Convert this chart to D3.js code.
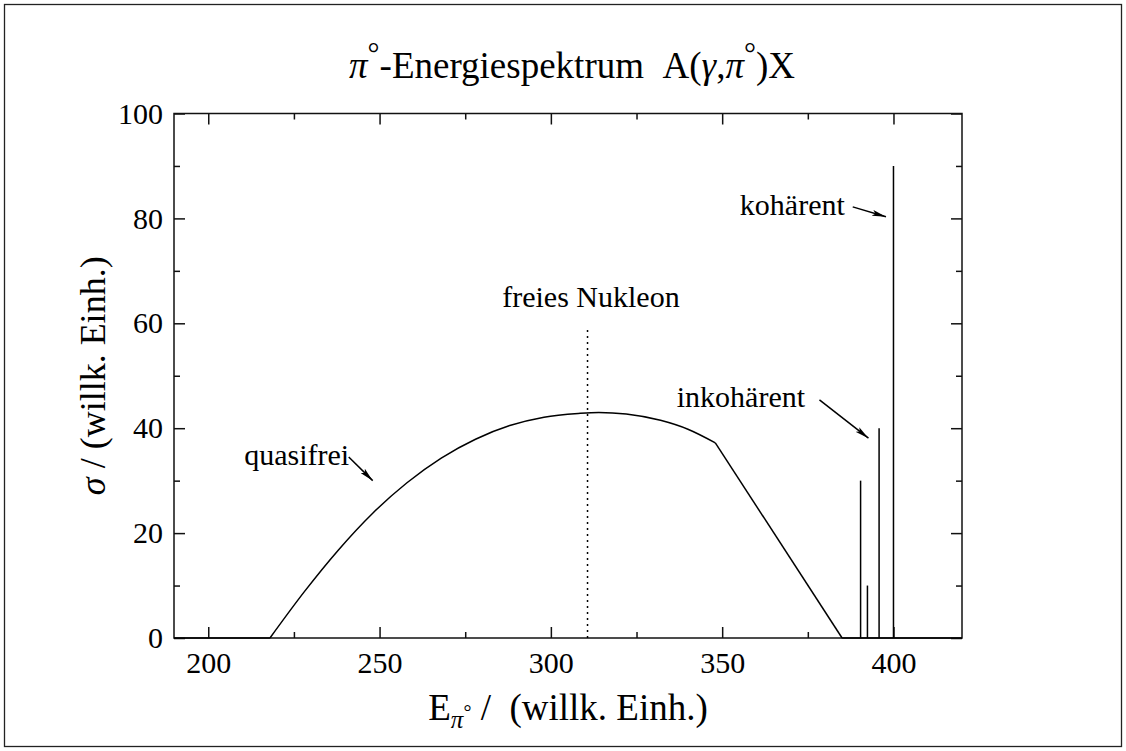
<!DOCTYPE html>
<html>
<head>
<meta charset="utf-8">
<script src="https://cdn.jsdelivr.net/npm/d3@7"></script>
<style>
  body{margin:0;background:#fff;}
  text{font-family:"Liberation Serif","Times New Roman",serif;fill:#000;}
</style>
</head>
<body>
<div id="chart"></div>
<script>
// axis ranges and ticks
var xDomain=[190,420];
var yDomain=[0,100];
var xMajorTicks=[200,250,300,350,400];
var xMinorTicks=[225,275,325,375];
var yMajorTicks=[0,20,40,60,80,100];
var yMinorTicks=[10,30,50,70,90];

// quasifree curve
var quasiE    =[218,228,238,248,258,268,278,288,298,308,314,322,332,340,348];
var quasiSigma=[0,8.8,16.8,23.8,29.6,34.3,37.9,40.5,42.1,42.8,43.0,42.7,41.5,39.8,37.2];
// straight falling edge after the kink
var tailE=[348,385];
var tailSigma=[37.2,0];
// zero baseline pieces
var baseE=[[190,218],[385,420]];

// incoherent + coherent lines
var spikeE    =[390.4,392.4,395.8,400];
var spikeSigma=[30,10,40,90];

// free nucleon marker
var freeE=310.7;
var freeTop=59;

// labels and arrows (data units)
var labelText  =["freies Nukleon","kohärent","inkohärent","quasifrei"];
var labelE     =[311.7,385.8,374.2,210.5];
var labelSigma =[63.1,80.6,44.0,33.0];
var labelAnchor=["middle","end","end","start"];
var arrowFrom=[[241.0,34.5],[388.1,82.2],[378.4,45.4]];
var arrowTo  =[[248.0,30.0],[397.8,80.3],[392.7,38.1]];

var W=1126,H=751;
var margin={top:113.5,right:164,bottom:113,left:174};

var svg=d3.select('#chart').append('svg')
  .attr('width',W).attr('height',H);

// outer frame
svg.append('rect')
  .attr('x',4.5).attr('y',4.5)
  .attr('width',W-9).attr('height',H-9)
  .attr('fill','none').attr('stroke','#222').attr('stroke-width',1.3);

var x=d3.scaleLinear().domain(xDomain).range([margin.left,W-margin.right]);
var y=d3.scaleLinear().domain(yDomain).range([H-margin.bottom,margin.top]);

var axisStyle=function(g){
  g.select('.domain').remove();
  g.selectAll('line').attr('stroke','#111').attr('stroke-width',1.5);
  g.selectAll('text').attr('font-size',30).attr('font-family','"Liberation Serif",serif').attr('fill','#000');
}

// bottom axis
svg.append('g').attr('transform','translate(0,'+y(0)+')')
  .call(d3.axisBottom(x).tickValues(xMajorTicks).tickSize(-11).tickPadding(14).tickFormat(d3.format('d')))
  .call(axisStyle);
svg.append('g').attr('transform','translate(0,'+y(0)+')')
  .call(d3.axisBottom(x).tickValues(xMinorTicks).tickSize(-6).tickFormat(''))
  .call(axisStyle);
// top axis
svg.append('g').attr('transform','translate(0,'+y(100)+')')
  .call(d3.axisTop(x).tickValues(xMajorTicks).tickSize(-11).tickFormat(''))
  .call(axisStyle);
svg.append('g').attr('transform','translate(0,'+y(100)+')')
  .call(d3.axisTop(x).tickValues(xMinorTicks).tickSize(-6).tickFormat(''))
  .call(axisStyle);
// left axis
svg.append('g').attr('transform','translate('+x(190)+',0)')
  .call(d3.axisLeft(y).tickValues(yMajorTicks).tickSize(-11).tickPadding(11).tickFormat(d3.format('d')))
  .call(axisStyle);
svg.append('g').attr('transform','translate('+x(190)+',0)')
  .call(d3.axisLeft(y).tickValues(yMinorTicks).tickSize(-6).tickFormat(''))
  .call(axisStyle);
// right axis
svg.append('g').attr('transform','translate('+x(420)+',0)')
  .call(d3.axisRight(y).tickValues(yMajorTicks).tickSize(-11).tickFormat(''))
  .call(axisStyle);
svg.append('g').attr('transform','translate('+x(420)+',0)')
  .call(d3.axisRight(y).tickValues(yMinorTicks).tickSize(-6).tickFormat(''))
  .call(axisStyle);

// plot frame
svg.append('rect')
  .attr('x',x(190)).attr('y',y(100))
  .attr('width',x(420)-x(190)).attr('height',y(0)-y(100))
  .attr('fill','none').attr('stroke','#111').attr('stroke-width',1.5);

var data=svg.append('g').attr('fill','none').attr('stroke','#000').attr('stroke-width',1.5);

// baseline pieces
baseE.forEach(function(p){
  data.append('line')
    .attr('x1',x(p[0])).attr('x2',x(p[1]))
    .attr('y1',y(0)).attr('y2',y(0));
});

// quasifree curve
var curve=d3.line().x(function(d){return x(d[0]);}).y(function(d){return y(d[1]);}).curve(d3.curveMonotoneX);
data.append('path').attr('d',curve(quasiE.map(function(e,i){return [e,quasiSigma[i]];})));
var straight=d3.line().x(function(d){return x(d[0]);}).y(function(d){return y(d[1]);});
data.append('path').attr('d',straight(tailE.map(function(e,i){return [e,tailSigma[i]];})));

// spikes
data.selectAll('line.spike')
  .data(spikeE.map(function(e,i){return {e:e,s:spikeSigma[i]};}))
  .join('line').attr('class','spike')
    .attr('x1',function(d){return x(d.e);}).attr('x2',function(d){return x(d.e);})
    .attr('y1',y(0)).attr('y2',function(d){return y(d.s);});

// free nucleon dotted line
data.append('line')
  .attr('x1',x(freeE)).attr('x2',x(freeE))
  .attr('y1',y(0)).attr('y2',y(freeTop))
  .attr('stroke-dasharray','2,4');

// arrow marker
svg.append('defs').append('marker')
  .attr('id','arrow')
  .attr('markerUnits','userSpaceOnUse')
  .attr('viewBox','0 0 14 6')
  .attr('refX',14).attr('refY',3)
  .attr('markerWidth',14).attr('markerHeight',6)
  .attr('orient','auto')
  .append('path').attr('d','M0,0 L14,3 L0,6 L3,3 z').attr('fill','#000');

svg.append('g').selectAll('line')
  .data(arrowFrom.map(function(f,i){return {f:f,t:arrowTo[i]};}))
  .join('line')
    .attr('x1',function(d){return x(d.f[0]);}).attr('y1',function(d){return y(d.f[1]);})
    .attr('x2',function(d){return x(d.t[0]);}).attr('y2',function(d){return y(d.t[1]);})
    .attr('stroke','#000').attr('stroke-width',1.5)
    .attr('marker-end','url(#arrow)');

// labels
svg.append('g').selectAll('text')
  .data(labelText.map(function(t,i){return {t:t,e:labelE[i],s:labelSigma[i],a:labelAnchor[i]};}))
  .join('text')
    .attr('x',function(d){return x(d.e);})
    .attr('y',function(d){return y(d.s);})
    .attr('text-anchor',function(d){return d.a;})
    .attr('font-size',30)
    .text(function(d){return d.t;});

// title
var title=svg.append('text')
  .attr('x',(x(190)+x(420))/2+4).attr('y',78)
  .attr('text-anchor','middle').attr('font-size',37);
title.append('tspan').attr('font-style','italic').text('π');
title.append('tspan').attr('dy',-15).attr('font-size',30).text('°');
title.append('tspan').attr('dy',15).text('-Energiespektrum\u00a0\u00a0A(');
title.append('tspan').attr('font-style','italic').text('γ');
title.append('tspan').text(',');
title.append('tspan').attr('font-style','italic').text('π');
title.append('tspan').attr('dy',-15).attr('font-size',30).text('°');
title.append('tspan').attr('dy',15).text(')X');

// x axis label
var xl=svg.append('text')
  .attr('x',(x(190)+x(420))/2).attr('y',720)
  .attr('text-anchor','middle').attr('font-size',37);
xl.append('tspan').text('E');
xl.append('tspan').attr('dy',8).attr('font-size',25).attr('font-style','italic').text('π');
xl.append('tspan').attr('dy',-9).attr('font-size',20).text('°');
xl.append('tspan').attr('dy',1).text('\u00a0/\u00a0\u00a0(willk. Einh.)');

// y axis label
var yl=svg.append('text')
  .attr('transform','translate(105,'+((y(0)+y(100))/2)+') rotate(-90)')
  .attr('text-anchor','middle').attr('font-size',36);
yl.append('tspan').attr('font-style','italic').text('σ');
yl.append('tspan').text('\u00a0/\u00a0(willk. Einh.)');
</script>
</body>
</html>
